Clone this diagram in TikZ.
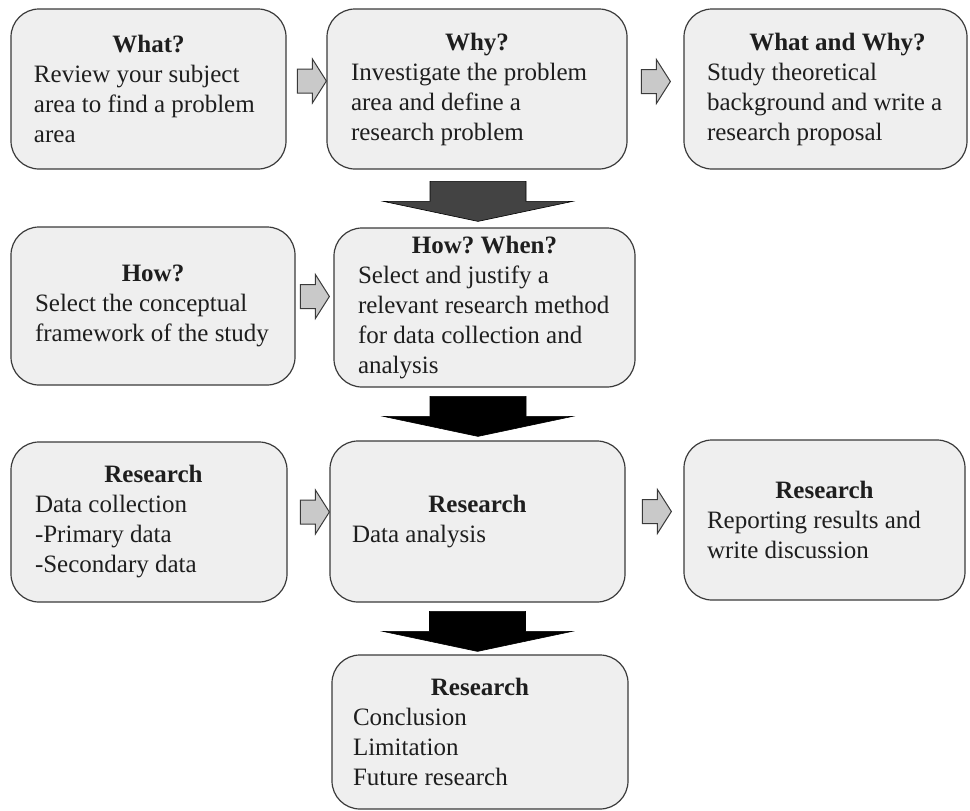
\documentclass[tikz,border=0pt]{standalone}
\usepackage{fontspec}
\setmainfont{Liberation Serif}
\usetikzlibrary{calc}
\frenchspacing

\definecolor{boxfill}{HTML}{EFEFEF}
\definecolor{boxline}{HTML}{3A3A3A}
\definecolor{sidefill}{HTML}{C9C9C9}
\definecolor{sideline}{HTML}{3A3A3A}
\definecolor{darkarrow}{HTML}{434343}
\definecolor{textcol}{HTML}{1E1E1E}

% centred bold heading over a body of the given width (pt)
\newcommand\boxtitle[2]{\makebox[#1pt]{\textbf{#2}}}

\tikzset{
  stepbox/.style={draw=boxline, fill=boxfill, line width=1.2pt,
    rounded corners=28pt, align=left, inner sep=0pt, text=textcol,
    font=\fontsize{25}{30}\selectfont},
  sidearrowpath/.style={draw=sideline, fill=sidefill, line width=1pt, line join=miter},
  pics/sidearrow/.style={code={
    \path[sidearrowpath] (0,0) -- (-14,-22) -- (-14,-12) -- (-29,-12)
      -- (-29,12) -- (-14,12) -- (-14,22) -- cycle;}},
  pics/bigarrow/.style={code={
    \path[draw=black, fill=#1, line width=0.6pt, line join=miter]
      (0,0) -- (-94.5,-20) -- (-48,-20) -- (-48,-40) -- (48,-40)
      -- (48,-20) -- (94.5,-20) -- cycle;}},
}

\begin{document}
\begin{tikzpicture}[x=1pt, y=-1pt]
\useasboundingbox (0,0) rectangle (970,811);

% first row
\node[stepbox, minimum width=275pt, minimum height=160pt] (b1) at (148.5,89)
  {\boxtitle{229}{What?}\\Review your subject\\area to find a problem\\area};
\node[stepbox, minimum width=300pt, minimum height=160pt] (b2) at (477,89)
  {\boxtitle{252}{Why?}\\Investigate the problem\\area and define a\\research problem};
\node[stepbox, minimum width=283pt, minimum height=160pt] (b3) at (825.5,89)
  {\makebox[237pt]{\hspace*{24pt}\textbf{What and Why?}}\\Study theoretical\\background and write a\\research proposal};

% second row
\node[stepbox, minimum width=284pt, minimum height=158pt] (b4) at (153,306)
  {\boxtitle{236}{How?}\\Select the conceptual\\framework of the study};
\node[stepbox, minimum width=301pt, minimum height=159pt] (b5) at (484.5,307.5)
  {\boxtitle{253}{How? When?}\\Select and justify a\\relevant research method\\for data collection and\\analysis};

% third row
\node[stepbox, minimum width=276pt, minimum height=160pt] (b6) at (149,522)
  {\makebox[228pt]{\hspace*{9pt}\textbf{Research}}\\Data collection\\-Primary data\\-Secondary data};
\node[stepbox, minimum width=295pt, minimum height=161pt] (b7) at (477.5,521.5)
  {\boxtitle{251}{Research}\\Data analysis};
\node[stepbox, minimum width=281pt, minimum height=160pt] (b8) at (824.5,520)
  {\boxtitle{235}{Research}\\Reporting results and\\write discussion};

% last row
\node[stepbox, minimum width=296pt, minimum height=154pt] (b9) at (480,732)
  {\boxtitle{254}{Research}\\Conclusion\\Limitation\\Future research};

% sideways steps
\pic at ($(b2.west)+(0,-8)$) {sidearrow};
\pic at ($(b3.west)+(-13,-7.5)$) {sidearrow};
\pic at ($(b5.west)+(-4,-11)$) {sidearrow};
\pic at ($(b7.west)+(0,-9.5)$) {sidearrow};
\pic at ($(b8.west)+(-12,-8.5)$) {sidearrow};

% downward steps
\pic at ($(b5.north)+(-6.5,-6)$) {bigarrow=darkarrow};
\pic at ($(b7.north)+(0.5,-4)$) {bigarrow=black};
\pic at ($(b9.north)+(-2.5,-3)$) {bigarrow=black};
\end{tikzpicture}
\end{document}
